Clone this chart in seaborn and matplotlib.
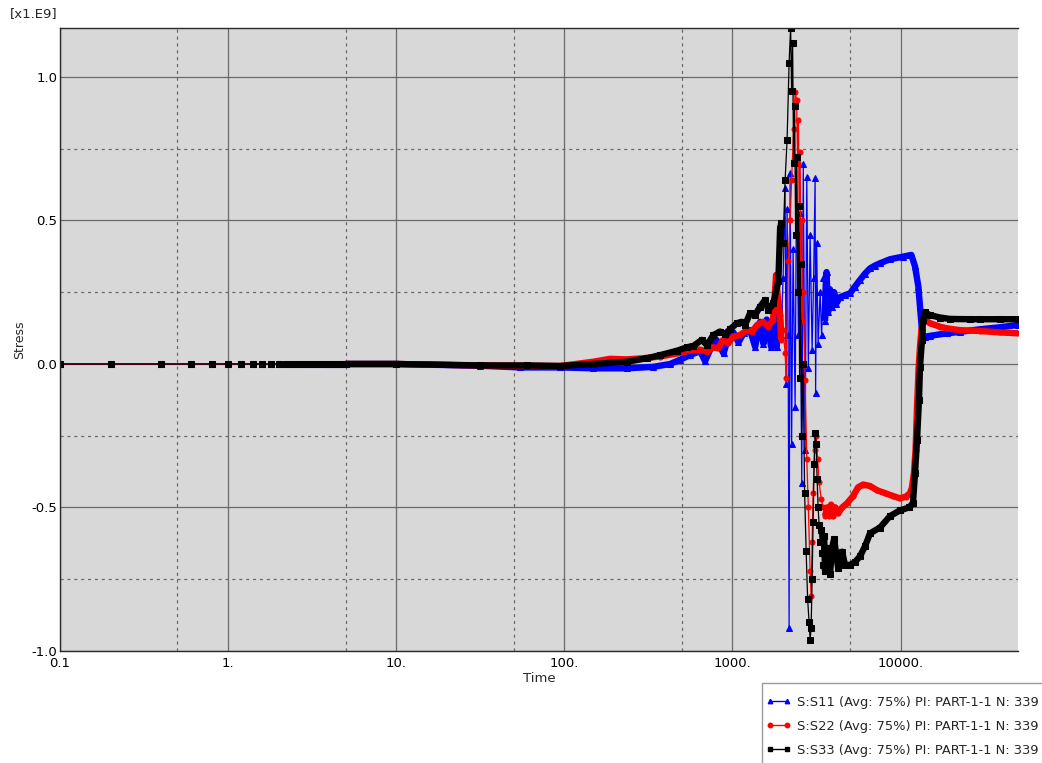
import matplotlib
matplotlib.use("Agg")
import matplotlib.pyplot as plt
from matplotlib.lines import Line2D
from matplotlib.patches import Rectangle
from matplotlib.ticker import FixedLocator, NullFormatter
import pandas as pd
import seaborn as sns

# ---------------------------------------------------------------- data
# Stress history at node 339 (values in units of 1e9)
time_early = [0.1, 0.2, 0.4, 0.6, 0.8, 1.0, 1.2, 1.4, 1.6, 1.8, 2.0, 2.2, 2.4,
              2.6, 2.8, 3.0, 3.2, 3.4, 3.6, 3.8, 4.0, 4.2, 4.4, 4.6, 4.8, 5.0]
stress_early = [0.0, 0.0, 0.0, 0.0, 0.0, 0.0, 0.0, 0.0, 0.0, 0.0, 0.0, 0.0, 0.0,
                0.0, 0.0, 0.0, 0.0, 0.0, 0.0, 0.0, 0.0, 0.0, 0.0, 0.0, 0.0, 0.0]

time_s11 = [10, 31.6, 54.7, 94.6, 148.6, 236.6, 337.6, 426.2, 488.6, 560.4, 642.4,
            688, 750, 804, 886, 948, 1014, 1087, 1165, 1274, 1365, 1462, 1530,
            1600, 1700, 1780, 1834, 1900, 1948, 2003, 2058, 2087, 2115, 2145,
            2174, 2204, 2250, 2297, 2361, 2410, 2470, 2528, 2585, 2640, 2707,
            2770, 2830, 2899, 2980, 3042, 3105, 3126, 3170, 3235, 3325, 3394,
            3480, 3557, 3630, 3710, 3809, 3919, 4028, 4140, 4373, 4678, 5009,
            5364, 5744, 6152, 6586, 7053, 7552, 8660, 10350, 11600, 12200,
            12770, 13060, 13360, 13650, 13980, 14980, 18900, 22580, 29690,
            39040, 49940]
stress_s11 = [0.0, -0.006, -0.012, -0.012, -0.015, -0.015, -0.01, 0.0, 0.015,
              0.031, 0.045, 0.010, 0.06, 0.084, 0.037, 0.095, 0.11, 0.075, 0.107,
              0.118, 0.06, 0.147, 0.07, 0.155, 0.06, 0.14, 0.06, 0.20, 0.10,
              0.30, 0.613, -0.07, 0.54, 0.10, -0.92, 0.665, -0.28, 0.40, -0.15,
              0.70, 0.10, 0.526, -0.415, 0.697, -0.30, 0.653, -0.014, 0.45, 0.05,
              0.30, 0.648, -0.10, 0.42, 0.07, 0.25, 0.10, 0.30, 0.15, 0.32, 0.18,
              0.26, 0.20, 0.25, 0.21, 0.233, 0.24, 0.246, 0.27, 0.293, 0.315,
              0.333, 0.343, 0.351, 0.365, 0.374, 0.38, 0.34, 0.27, 0.20, 0.13,
              0.095, 0.095, 0.098, 0.107, 0.112, 0.121, 0.128, 0.136]

time_s22 = [10, 31.6, 94.6, 149, 187.5, 236.6, 294.4, 371.5, 469, 583.7, 642.4,
            707, 767.9, 822, 880.6, 942, 1010, 1111, 1223, 1310, 1403, 1522, 1630,
            1745, 1819, 1870, 1922, 1948, 2003, 2058, 2087, 2145, 2204, 2250,
            2313, 2361, 2410, 2443, 2470, 2494, 2528, 2555, 2585, 2612, 2640,
            2707, 2770, 2830, 2899, 2939, 2980, 3021, 3084, 3148, 3213, 3280,
            3371, 3465, 3557, 3660, 3761, 3866, 3973, 4084, 4255, 4495, 4814,
            5229, 5588, 5985, 6586, 7251, 8089, 9024, 9932, 10780, 11390, 11700,
            12020, 12290, 12540, 12800, 13060, 13330, 13600, 13980, 14980, 17180,
            18900, 22580, 29690, 39040, 49940]
stress_s22 = [0.0, -0.005, -0.007, 0.008, 0.018, 0.016, 0.02, 0.026, 0.037,
              0.049, 0.05, 0.043, 0.058, 0.055, 0.084, 0.072, 0.095, 0.101, 0.118,
              0.113, 0.136, 0.147, 0.13, 0.153, 0.31, 0.22, 0.17, 0.084, 0.12,
              0.04, -0.05, 0.36, 0.50, 0.64, 0.82, 0.948, 0.92, 0.70, 0.85, 0.55,
              0.74, 0.35, 0.50, 0.15, 0.25, -0.056, -0.33, -0.50, -0.72, -0.81,
              -0.62, -0.45, -0.30, -0.25, -0.33, -0.41, -0.47, -0.50, -0.53, -0.50,
              -0.53, -0.49, -0.53, -0.50, -0.52, -0.50, -0.485, -0.46, -0.43,
              -0.42, -0.425, -0.44, -0.45, -0.46, -0.468, -0.462, -0.45, -0.43,
              -0.38, -0.30, -0.15, -0.02, 0.06, 0.12, 0.15, 0.153, 0.142, 0.13,
              0.124, 0.118, 0.115, 0.11, 0.107]

time_s33 = [10, 31.6, 60, 94.6, 149, 236, 310, 372, 467, 535, 586, 658, 705, 771,
            845, 905, 969, 1062, 1137, 1189, 1274, 1365, 1462, 1565, 1636, 1753,
            1877, 1922, 1948, 2003, 2058, 2115, 2174, 2220, 2250, 2281, 2313,
            2345, 2377, 2410, 2443, 2477, 2511, 2545, 2580, 2634, 2689, 2745,
            2802, 2860, 2899, 2939, 2980, 3021, 3063, 3105, 3148, 3191, 3235,
            3280, 3325, 3371, 3417, 3465, 3512, 3557, 3610, 3660, 3710, 3809,
            3919, 4028, 4140, 4255, 4373, 4495, 4678, 5009, 5364, 5744, 6152,
            6586, 7552, 8660, 9932, 11240, 11860, 12200, 12540, 12880, 13060,
            13420, 13600, 13980, 14980, 17180, 19690, 25890, 29690, 39040, 49940]
stress_s33 = [0.0, -0.005, -0.005, -0.007, 0.0, 0.008, 0.02, 0.031, 0.046,
              0.058, 0.063, 0.084, 0.066, 0.101, 0.113, 0.105, 0.121, 0.142,
              0.147, 0.136, 0.177, 0.171, 0.20, 0.223, 0.188, 0.211, 0.29, 0.47,
              0.49, 0.42, 0.64, 0.78, 1.05, 1.17, 0.95, 1.12, 0.70, 0.90, 0.45,
              0.72, 0.25, 0.55, -0.05, 0.35, -0.25, 0.0, -0.45, -0.65, -0.82,
              -0.90, -0.96, -0.92, -0.75, -0.55, -0.35, -0.24, -0.28, -0.40,
              -0.50, -0.56, -0.62, -0.58, -0.66, -0.70, -0.60, -0.72, -0.64,
              -0.72, -0.68, -0.73, -0.64, -0.61, -0.66, -0.71, -0.67, -0.654,
              -0.70, -0.70, -0.69, -0.67, -0.635, -0.59, -0.57, -0.53, -0.51,
              -0.50, -0.485, -0.38, -0.265, -0.125, -0.01, 0.084, 0.153, 0.18,
              0.17, 0.162, 0.157, 0.156, 0.156, 0.156, 0.156]

labels = ["S:S11 (Avg: 75%) PI: PART-1-1 N: 339",
          "S:S22 (Avg: 75%) PI: PART-1-1 N: 339",
          "S:S33 (Avg: 75%) PI: PART-1-1 N: 339"]

x_ticks = [0.1, 1, 10, 100, 1000, 10000]
x_tick_labels = ["0.1", "1.", "10.", "100.", "1000.", "10000."]
y_ticks = [-1.0, -0.5, 0.0, 0.5, 1.0]
y_tick_labels = ["-1.0", "-0.5", "0.0", "0.5", "1.0"]

# ---------------------------------------------------------------- style
sns.set_style("white", {"axes.facecolor": "#d8d8d8"})
plt.rcParams["font.family"] = ["DejaVu Sans"]

W, H = 1042, 763
fig = plt.figure(figsize=(W / 100, H / 100), dpi=100)
ax = fig.add_axes([60 / W, 1 - 651 / H, (1018 - 60) / W, (651 - 28) / H])
ax.set_facecolor("#d8d8d8")

styles = [
    ("S11", time_s11, stress_s11, "#0000ff", "^", 4.2),
    ("S22", time_s22, stress_s22, "#ff0000", "o", 3.6),
    ("S33", time_s33, stress_s33, "#000000", "s", 3.8),
]

handles = []
for name, t, s, color, mk, ms in styles:
    df = pd.DataFrame({"time": time_early + t, "stress": stress_early + s})
    # dense output increments read as a solid band outside the unstable window
    bands = [df[(df.time >= 5) & (df.time < 1950)], df[df.time > 3500]]
    for seg in bands:
        sns.lineplot(data=seg, x="time", y="stress", ax=ax, color=color,
                     linewidth=4.6, estimator=None, sort=False, legend=False,
                     solid_capstyle="butt")
    sns.lineplot(data=df, x="time", y="stress", ax=ax, color=color,
                 linewidth=0.9, marker=mk, markersize=ms,
                 markeredgecolor=color, markerfacecolor=color,
                 estimator=None, sort=False, legend=False)
    handles.append(Line2D([0], [0], color=color, linewidth=1.0, marker=mk,
                          markersize=3.2, markeredgecolor=color,
                          markerfacecolor=color))

# ---------------------------------------------------------------- axes
ax.set_xscale("log")
ax.set_xlim(0.1, 50000)
ax.set_ylim(-1.0, 1.1707)

ax.xaxis.set_major_locator(FixedLocator(x_ticks))
ax.set_xticklabels(x_tick_labels)
ax.xaxis.set_minor_locator(FixedLocator([0.5, 5, 50, 500, 5000]))
ax.xaxis.set_minor_formatter(NullFormatter())
ax.set_yticks(y_ticks)
ax.set_yticklabels(y_tick_labels)
ax.yaxis.set_minor_locator(FixedLocator([-0.75, -0.25, 0.25, 0.75]))

ax.tick_params(which="both", length=0, labelsize=9.5, colors="#000000")
ax.tick_params(axis="x", pad=4)
ax.tick_params(axis="y", pad=2)

ax.grid(True, which="major", color="#6a6a6a", linewidth=0.9, linestyle="-")
ax.grid(True, which="minor", color="#6a6a6a", linewidth=0.9,
        linestyle=(0, (2.5, 3)))
ax.set_axisbelow(True)

for side in ["left", "bottom", "top"]:
    ax.spines[side].set_color("#2a2a2a")
    ax.spines[side].set_linewidth(1.0)
ax.spines["right"].set_visible(False)

ax.set_xlabel("Time", fontsize=9.5, labelpad=2)
ax.set_ylabel("Stress", fontsize=9, labelpad=4)

fig.text(10 / W, 1 - 14 / H, "[x1.E9]", fontsize=9.5, ha="left", va="center")

# legend box in the lower right corner, running off the figure edge
fig.patches.append(Rectangle((762 / W, -0.01), 0.5, 0.01 + (763 - 683) / H,
                             transform=fig.transFigure, facecolor="white",
                             edgecolor="#9a9a9a", linewidth=1.0, zorder=1))
leg = fig.legend(handles, labels, loc="upper left",
                 bbox_to_anchor=(766 / W, 1 - 696 / H), numpoints=2,
                 fontsize=9.4, handlelength=1.9, handletextpad=0.45,
                 frameon=False, borderaxespad=0, borderpad=0,
                 labelspacing=0.84)
leg.set_zorder(2)

fig.savefig("out.png", dpi=100, facecolor="white")
